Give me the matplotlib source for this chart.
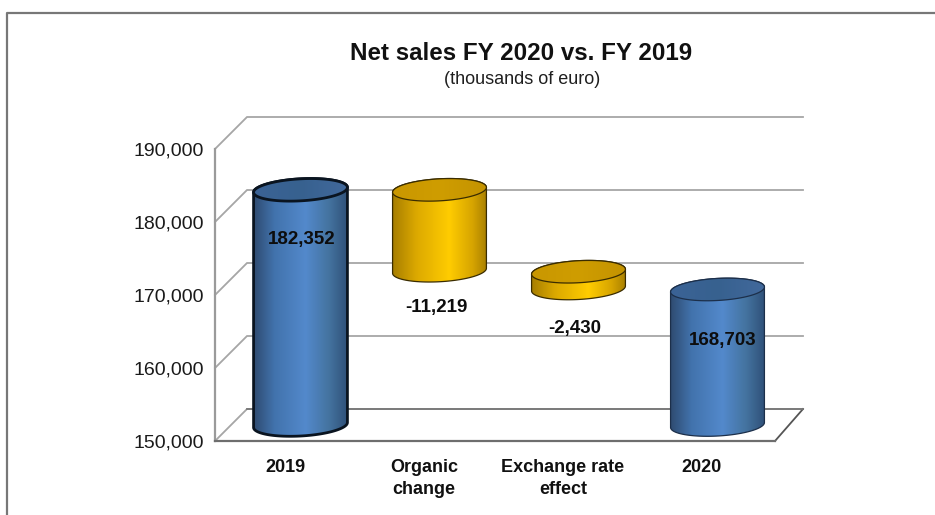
import numpy as np
import matplotlib
matplotlib.use("Agg")
import matplotlib.pyplot as plt
from matplotlib.colors import LinearSegmentedColormap
from matplotlib.patches import Polygon

plt.rcParams['font.family'] = ['Liberation Sans', 'DejaVu Sans']

categories = ["2019", "Organic\nchange", "Exchange rate\neffect", "2020"]
bar_tops = [182352, 182352, 171133, 168703]
bar_bottoms = [150000, 171133, 168703, 150000]
value_labels = ["182,352", "-11,219", "-2,430", "168,703"]
y_ticks = [150000, 160000, 170000, 180000, 190000]
kinds = ["total", "delta", "delta", "total"]

W, H = 935, 515
fig = plt.figure(figsize=(W/100, H/100), dpi=100)
L, R, T, B = 215, 775, 149, 441
ax = fig.add_axes([L/W, 1-B/H, (R-L)/W, (B-T)/H])
xlim = (-70/139, 490/139)
ylim = (150000, 190000)
ax.set_xlim(xlim); ax.set_ylim(ylim)
ux = (xlim[1]-xlim[0])/(R-L)   # data per px
uy = (ylim[1]-ylim[0])/(B-T)

ax.set_facecolor('none')
for s in ('top', 'right'):
    ax.spines[s].set_visible(False)
for s in ('left', 'bottom'):
    ax.spines[s].set_color('#6e6e6e')
    ax.spines[s].set_linewidth(1.6)
ax.spines['left'].set_color('#9a9a9a')
ax.set_yticks(y_ticks)
ax.set_yticklabels([f"{v:,}" for v in y_ticks], fontsize=14, color='#1a1a1a')
ax.set_xticks(range(len(categories)))
ax.set_xticklabels(categories, fontsize=13, fontweight='bold', color='#111111', linespacing=1.4)
ax.tick_params(length=0)
ax.tick_params(axis='y', pad=8)
ax.tick_params(axis='x', pad=13)
for lab in ax.get_xticklabels():
    lab.set_verticalalignment('top')
ax.get_xticklabels()[2].set_x(2)

# depth offsets
dpx, dpy = 32, 32
x0, x1 = xlim
gcol = '#a6a6a6'
for v in y_ticks:
    ax.plot([x0, x0+dpx*ux, x1+28*ux], [v, v+dpy*uy, v+dpy*uy], color=gcol, lw=1.3,
            clip_on=False, zorder=1, solid_joinstyle='miter')
ax.plot([x1, x1+28*ux], [150000, 150000+dpy*uy], color='#555555', lw=1.3, clip_on=False, zorder=1)
ax.plot([x0+dpx*ux, x1+28*ux], [150000+dpy*uy]*2, color='#777777', lw=1.3, clip_on=False, zorder=1)

blue = LinearSegmentedColormap.from_list('b', [(0, '#2f4c72'), (.22, '#4273ad'), (.55, '#5389cc'), (.8, '#44739f'), (1, '#2f5079')])
gold = LinearSegmentedColormap.from_list('g', [(0, '#a87f00'), (.25, '#dca900'), (.6, '#ffcc00'), (.85, '#d6a400'), (1, '#a98000')])
blue_top = LinearSegmentedColormap.from_list('bt', ['#3b6396', '#37618f', '#42699c'])
gold_top = LinearSegmentedColormap.from_list('gt', ['#c99700', '#cf9d00', '#c49300'])

a, b = 47, 11
tilt = np.deg2rad(3.2)
t = np.linspace(0, 2*np.pi, 181)
ex = a*np.cos(t)*np.cos(tilt) - b*np.sin(t)*np.sin(tilt)
ey = a*np.cos(t)*np.sin(tilt) + b*np.sin(t)*np.cos(tilt)
grad = np.linspace(0, 1, 256).reshape(1, -1)
order = np.argsort(ex)
left, right = np.argmin(ex), np.argmax(ex)
chord = np.interp(ex[order], [ex[left], ex[right]], [ey[left], ey[right]])
low = order[ey[order] - chord <= 1e-9]
up = order[ey[order] - chord >= -1e-9]

for i, (top, bot, kind) in enumerate(zip(bar_tops, bar_bottoms, kinds)):
    cx = i + 15.5*ux
    ctop = top + 15*uy
    cbot = bot + 16*uy
    bodyx = cx + np.r_[ex[low]*ux, ex[up][::-1]*ux]
    bodyy = np.r_[cbot + ey[low]*uy, ctop + ey[up][::-1]*uy]
    cm, cmt = (blue, blue_top) if kind == 'total' else (gold, gold_top)
    ext = [cx - a*ux, cx + a*ux, cbot - 12*uy, ctop + 14*uy]
    lw = 2.0 if i == 0 else 0.9
    ecol = '#0a1420' if i == 0 else ('#1c2f4a' if kind == 'total' else '#3a2c00')
    ax.add_patch(Polygon(np.c_[bodyx, bodyy], closed=True, fc='none', ec=ecol, lw=lw,
                         clip_on=False, zorder=5))
    im = ax.imshow(grad, extent=ext, cmap=cm, aspect='auto', zorder=4)
    im.set_clip_path(Polygon(np.c_[bodyx, bodyy], closed=True, transform=ax.transData))
    capx, capy = cx + ex*ux, ctop + ey*uy
    ax.add_patch(Polygon(np.c_[capx, capy], closed=True, fc='none', ec=ecol, lw=lw,
                         clip_on=False, zorder=7))
    imc = ax.imshow(grad, extent=[cx-a*ux, cx+a*ux, ctop-12*uy, ctop+12*uy], cmap=cmt, aspect='auto', zorder=6)
    imc.set_clip_path(Polygon(np.c_[capx, capy], closed=True, transform=ax.transData))

ax.set_xlim(xlim); ax.set_ylim(ylim)

# value labels, placed relative to the bars (pixel offsets)
offsets = [(17, -35), (12, -21), (12, -24), (21, -36)]
for i, (top, bot, kind, txt, (ox, oy)) in enumerate(zip(bar_tops, bar_bottoms, kinds, value_labels, offsets)):
    anchor = top if kind == 'total' else bot
    ax.annotate(txt, (i, anchor), xytext=(ox*0.72, oy*0.72), textcoords='offset points',
                ha='center', va='center', fontsize=13.5, fontweight='bold', color='#0d0d0d', zorder=10,
                annotation_clip=False)

fig.text(521/W, 1-53/H, "Net sales FY 2020 vs. FY 2019", ha='center', va='center', fontsize=17.4,
         fontweight='bold', color='#111111')
fig.text(522/W, 1-80/H, "(thousands of euro)", ha='center', va='center', fontsize=13, color='#1f1f1f')

# chart frame: left and top edges only
fig.add_artist(plt.Line2D([7/W, 7/W, 1], [0, 1-13/H, 1-13/H], color='#777777', lw=1.6,
                          transform=fig.transFigure))
fig.savefig('out.png', dpi=100)
